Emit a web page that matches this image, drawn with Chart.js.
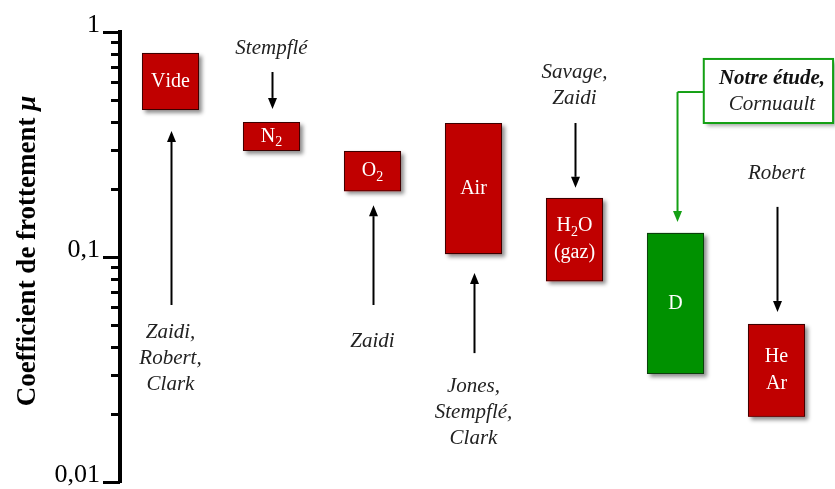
<!DOCTYPE html>
<html><head><meta charset="utf-8">
<script src="https://cdn.jsdelivr.net/npm/chart.js@4.4.1/dist/chart.umd.min.js"></script>
<style>html,body{margin:0;padding:0;background:#fff;} #wrap{width:835px;height:489px;position:relative;}</style>
</head><body><div id="wrap"><canvas id="c" width="835" height="489"></canvas></div>
<script>
// ---- data ----
const categories = ['Vide', 'N_2', 'O_2', 'Air', 'H_2O|(gaz)', 'D', 'He|Ar'];
const lowValues  = [0.450, 0.296, 0.196, 0.103, 0.078, 0.0302, 0.0195];
const highValues = [0.807, 0.398, 0.296, 0.394, 0.183, 0.128, 0.0504];
const barKinds   = ['lit', 'lit', 'lit', 'lit', 'lit', 'study', 'lit'];
const majorTicks = [0.01, 0.1, 1];
const tickLabels = ['0,01', '0,1', '1'];
const minorTicks = [0.02, 0.03, 0.04, 0.05, 0.06, 0.07, 0.08, 0.09, 0.2, 0.3, 0.4, 0.5, 0.6, 0.7, 0.8, 0.9];
const authorLines = [['Zaidi,', 'Robert,', 'Clark'], ['Stempflé'], ['Zaidi'], ['Jones,', 'Stempflé,', 'Clark'], ['Savage,', 'Zaidi'], [], ['Robert']];
const authorY   = [0.0460, 0.849, 0.0423, 0.0267, 0.664, null, 0.236];
const arrowFrom = [0.0612, 0.664, 0.0612, 0.0374, 0.394, null, 0.167];
const arrowTo   = [0.363, 0.455, 0.170, 0.0849, 0.203, null, 0.057];
const studyLines = ['Notre étude,', 'Cornuault'];
const studyTextY = [0.618, 0.474];
const yTitle = 'Coefficient de frottement ';
const yTitleSymbol = 'μ';

// ---- layout / style (not data) ----
const SERIF = "'Liberation Serif', 'Times New Roman', serif";
const RED = '#C00000', GREEN = '#009100', BOX_GREEN = '#14a014';
const studyBox = { x0: 5.28, x1: 6.56, top: 0.759, bottom: 0.394, textX: 5.955, elbowY: 0.541, arrowX: 5.02, arrowTo: 0.143 };

function drawRich(ctx, str, cx, cy, size) {
  const segs = [];
  for (let i = 0; i < str.length; i++) {
    if (str[i] === '_' && i + 1 < str.length) { segs.push({ t: str[i + 1], sub: true }); i++; }
    else segs.push({ t: str[i], sub: false });
  }
  const big = size + 'px ' + SERIF, small = Math.round(size * 0.72) + 'px ' + SERIF;
  let w = 0;
  segs.forEach(s => { ctx.font = s.sub ? small : big; s.w = ctx.measureText(s.t).width; w += s.w; });
  let x = cx - w / 2;
  ctx.textAlign = 'left'; ctx.textBaseline = 'middle';
  segs.forEach(s => { ctx.font = s.sub ? small : big; ctx.fillText(s.t, x, cy + (s.sub ? size * 0.3 : 0)); x += s.w; });
}

function arrow(ctx, x, y0, y1, color) {
  const head = 11, hw = 4.5, dir = y1 > y0 ? 1 : -1;
  ctx.strokeStyle = color; ctx.fillStyle = color; ctx.lineWidth = 2;
  ctx.beginPath(); ctx.moveTo(x, y0); ctx.lineTo(x, y1 - dir * head); ctx.stroke();
  ctx.beginPath(); ctx.moveTo(x, y1); ctx.lineTo(x - hw, y1 - dir * head); ctx.lineTo(x + hw, y1 - dir * head); ctx.closePath(); ctx.fill();
}

const decorPlugin = {
  id: 'decor',
  beforeDatasetsDraw(chart) {
    const ctx = chart.ctx, meta = chart.getDatasetMeta(0);
    ctx.save();
    ctx.shadowColor = 'rgba(0,0,0,0.45)'; ctx.shadowBlur = 4; ctx.shadowOffsetX = 3; ctx.shadowOffsetY = 3;
    meta.data.forEach((el, i) => {
      const p = el.getProps(['x', 'y', 'base', 'width'], true);
      ctx.fillStyle = barKinds[i] === 'study' ? GREEN : RED;
      ctx.fillRect(p.x - p.width / 2, Math.min(p.y, p.base), p.width, Math.abs(p.base - p.y));
    });
    ctx.restore();
  },
  afterDraw(chart) {
    const ctx = chart.ctx, xs = chart.scales.x, ys = chart.scales.y, meta = chart.getDatasetMeta(0);
    ctx.save();
    ctx.strokeStyle = '#000'; ctx.lineWidth = 3;
    const ax = chart.chartArea.left;
    majorTicks.concat(minorTicks).forEach(v => {
      const y = Math.round(ys.getPixelForValue(v)) + 0.5;
      const len = majorTicks.includes(v) ? 17 : 9;
      ctx.beginPath(); ctx.moveTo(ax - len, y); ctx.lineTo(ax, y); ctx.stroke();
    });
    ctx.fillStyle = '#fff';
    meta.data.forEach((el, i) => {
      const p = el.getProps(['x', 'y', 'base'], true);
      const lines = categories[i].split('|');
      const cy = (p.y + p.base) / 2;
      lines.forEach((ln, k) => drawRich(ctx, ln, p.x, cy + (k - (lines.length - 1) / 2) * 27, 20));
    });
    categories.forEach((c, i) => {
      const x = xs.getPixelForValue(i);
      if (arrowFrom[i] != null) arrow(ctx, x + 1, ys.getPixelForValue(arrowFrom[i]), ys.getPixelForValue(arrowTo[i]), '#000');
      if (authorY[i] != null) {
        ctx.fillStyle = '#222'; ctx.font = 'italic 21px ' + SERIF; ctx.textAlign = 'center'; ctx.textBaseline = 'middle';
        const y0 = ys.getPixelForValue(authorY[i]);
        authorLines[i].forEach((t, k) => ctx.fillText(t, x, y0 + k * 26));
      }
    });
    const bx0 = xs.getPixelForValue(studyBox.x0), bx1 = xs.getPixelForValue(studyBox.x1);
    const by0 = ys.getPixelForValue(studyBox.top), by1 = ys.getPixelForValue(studyBox.bottom);
    ctx.save();
    ctx.shadowColor = 'rgba(0,0,0,0.35)'; ctx.shadowBlur = 4; ctx.shadowOffsetX = 3; ctx.shadowOffsetY = 3;
    ctx.fillStyle = '#fff'; ctx.fillRect(bx0, by0, bx1 - bx0, by1 - by0);
    ctx.restore();
    ctx.strokeStyle = BOX_GREEN; ctx.lineWidth = 2; ctx.strokeRect(bx0, by0, bx1 - bx0, by1 - by0);
    const tx = xs.getPixelForValue(studyBox.textX);
    ctx.fillStyle = '#111'; ctx.textAlign = 'center'; ctx.textBaseline = 'middle';
    ctx.font = 'bold italic 21px ' + SERIF; ctx.fillText(studyLines[0], tx, ys.getPixelForValue(studyTextY[0]));
    ctx.fillStyle = '#222'; ctx.font = 'italic 21px ' + SERIF; ctx.fillText(studyLines[1], tx, ys.getPixelForValue(studyTextY[1]));
    const ex = xs.getPixelForValue(studyBox.arrowX), ey = ys.getPixelForValue(studyBox.elbowY);
    ctx.strokeStyle = BOX_GREEN; ctx.lineWidth = 2;
    ctx.beginPath(); ctx.moveTo(bx0, ey); ctx.lineTo(ex, ey); ctx.stroke();
    arrow(ctx, ex, ey, ys.getPixelForValue(studyBox.arrowTo), BOX_GREEN);
    ctx.save();
    ctx.translate(35, (chart.chartArea.top + chart.chartArea.bottom) / 2 - 6);
    ctx.rotate(-Math.PI / 2);
    ctx.fillStyle = '#000'; ctx.textBaseline = 'alphabetic'; ctx.textAlign = 'left';
    ctx.font = 'bold 27px ' + SERIF; const w1 = ctx.measureText(yTitle).width;
    ctx.font = 'bold italic 27px ' + SERIF; const w2 = ctx.measureText(yTitleSymbol).width;
    ctx.font = 'bold 27px ' + SERIF; ctx.fillText(yTitle, -(w1 + w2) / 2, 0);
    ctx.font = 'bold italic 27px ' + SERIF; ctx.fillText(yTitleSymbol, -(w1 + w2) / 2 + w1, 0);
    ctx.restore();
    ctx.restore();
  }
};

new Chart(document.getElementById('c').getContext('2d'), {
  type: 'bar',
  data: {
    labels: categories,
    datasets: [{
      data: categories.map((c, i) => [lowValues[i], highValues[i]]),
      backgroundColor: barKinds.map(k => k === 'study' ? GREEN : RED),
      borderColor: barKinds.map(k => k === 'study' ? '#0d3d0d' : '#3a0000'),
      borderWidth: 1,
      borderSkipped: false,
      barPercentage: 0.565,
      categoryPercentage: 1
    }]
  },
  options: {
    responsive: false,
    animation: false,
    events: [],
    layout: { padding: { top: 32, bottom: 7, right: 8, left: 0 } },
    plugins: { legend: { display: false }, tooltip: { enabled: false } },
    scales: {
      x: { display: false, offset: true },
      y: {
        type: 'logarithmic', min: 0.01, max: 1,
        border: { display: true, width: 4, color: '#000' },
        grid: { display: false, drawTicks: false },
        ticks: {
          autoSkip: false, padding: 20, labelOffset: -7, color: '#000',
          font: { family: SERIF, size: 26 },
          callback: (v) => { const k = majorTicks.findIndex(m => Math.abs(m - v) / m < 1e-6); return k >= 0 ? tickLabels[k] : ''; }
        },
        afterBuildTicks: (s) => { s.ticks = majorTicks.concat(minorTicks).sort((a, b) => a - b).map(v => ({ value: v, major: majorTicks.includes(v) })); },
        afterFit: (s) => { s.width = 120; s.paddingTop = 0; s.paddingBottom = 0; }
      }
    }
  },
  plugins: [decorPlugin]
});
</script></body></html>
